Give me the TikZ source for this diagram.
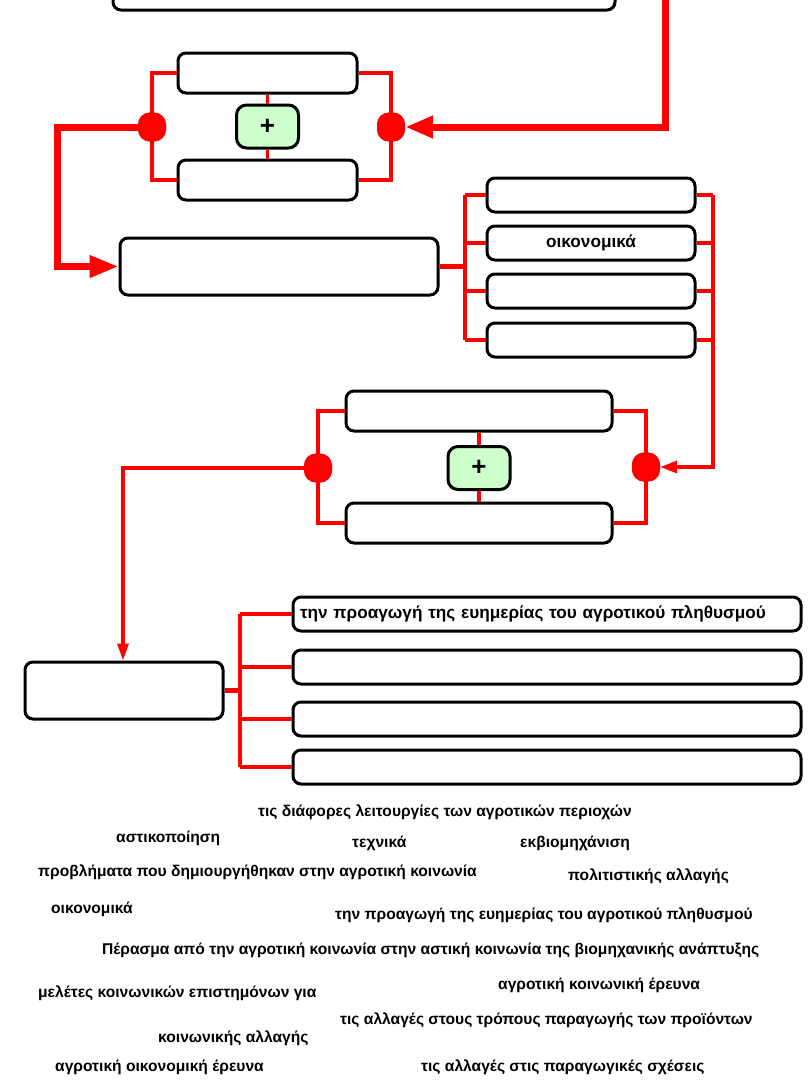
\documentclass[tikz,border=0pt]{standalone}
\usepackage{fontspec}
\setmainfont{Liberation Sans}
\usetikzlibrary{arrows.meta,calc}
\definecolor{boxgreen}{RGB}{204,255,204}
\definecolor{lred}{RGB}{255,0,0}
\begin{document}
\begin{tikzpicture}[x=1pt,y=-1pt,
  box/.style={draw=black,line width=3pt,rounded corners=8pt,fill=white,inner sep=0pt},
  plusbox/.style={draw=black,line width=3pt,rounded corners=10pt,fill=boxgreen,minimum width=62pt,minimum height=43pt,inner sep=0pt,font=\fontsize{26}{26}\selectfont\bfseries},
  dotnode/.style={fill=lred,rounded corners=12pt,minimum width=28pt,minimum height=29pt,inner sep=0pt},
  thin/.style={draw=lred,line width=3.5pt},
  thick/.style={draw=lred,line width=7pt},
  lbl/.style={font=\fontsize{15.6}{17}\selectfont\bfseries,inner sep=0pt},
  boxlbl/.style={font=\fontsize{17.2}{19}\selectfont\bfseries},
]
\useasboundingbox (0,0) rectangle (810,1085);
\clip (0,0) rectangle (810,1085);
\fill[white] (0,0) rectangle (810,1085);

% top box (cut at top)
\node[box,minimum width=502pt,minimum height=50pt] (top) at (364,-15) {};

% first gate
\node[box,minimum width=179pt,minimum height=40pt] (g1top) at (267.5,73) {};
\node[box,minimum width=179pt,minimum height=40pt] (g1bot) at (267.5,180) {};
\node[plusbox] (g1plus) at (267.5,126.5) {+};
\node[dotnode] (g1L) at (152,127) {};
\node[dotnode] (g1R) at (391,127) {};

% middle box and list
\node[box,minimum width=318pt,minimum height=57pt] (mid) at (279,266.5) {};
\node[box,minimum width=208pt,minimum height=34pt] (r1) at (591,195) {};
\node[box,minimum width=208pt,minimum height=34pt,boxlbl] (r2) at (591,243) {οικονομικά};
\node[box,minimum width=208pt,minimum height=34pt] (r3) at (591,291) {};
\node[box,minimum width=208pt,minimum height=34pt] (r4) at (591,340) {};

% second gate
\node[box,minimum width=266pt,minimum height=40pt] (g2top) at (479,411) {};
\node[box,minimum width=266pt,minimum height=40pt] (g2bot) at (479,523) {};
\node[plusbox] (g2plus) at (479,468) {+};
\node[dotnode] (g2L) at (318,468) {};
\node[dotnode] (g2R) at (646,467) {};

% bottom-left box and list
\node[box,minimum width=198pt,minimum height=57pt] (bl) at (124,690.5) {};
\node[box,minimum width=508pt,minimum height=34pt,boxlbl,text width=494pt,align=left] (b1) at (547,614) {την προαγωγή της ευημερίας του αγροτικού πληθυσμού};
\node[box,minimum width=508pt,minimum height=34pt] (b2) at (547,667) {};
\node[box,minimum width=508pt,minimum height=34pt] (b3) at (547,719) {};
\node[box,minimum width=508pt,minimum height=34pt] (b4) at (547,767) {};

\coordinate (topin) at (665,-10);
\coordinate (c1) at (57,127);
\coordinate (bus1) at (465,266.5);
\coordinate (bus2) at (713,195);
\coordinate (c2) at (123,468);
\coordinate (bus3) at (240,690.5);

% thick connectors
\draw[thick,-{Triangle[length=28pt,width=21pt]}] (topin) |- (g1R.east);
\draw[thick,-{Triangle[length=29pt,width=21pt]}] (g1L.center) -- (c1) |- (mid.west);

% first gate thin lines
\draw[thin] (g1L.center) |- (g1top.west);
\draw[thin] (g1L.center) |- (g1bot.west);
\draw[thin] (g1R.center) |- (g1top.east);
\draw[thin] (g1R.center) |- (g1bot.east);
\draw[thin] (g1top.south) -- (g1plus.north);
\draw[thin] (g1plus.south) -- (g1bot.north);

% middle list
\draw[line width=5pt,lred] (mid.east) -- (bus1);
\draw[thin] (r1.west -| bus1) -- (r4.west -| bus1);
\foreach \r in {r1,r2,r3,r4} {\draw[thin] (\r.west -| bus1) -- (\r.west);}
\foreach \r in {r1,r2,r3,r4} {\draw[thin] (\r.east) -- (\r.east -| bus2);}
\draw[thin,-{Triangle[length=17pt,width=12pt]}] (bus2) |- (g2R.east);

% second gate
\draw[thin] (g2L.center) |- (g2top.west);
\draw[thin] (g2L.center) |- (g2bot.west);
\draw[thin] (g2R.center) |- (g2top.east);
\draw[thin] (g2R.center) |- (g2bot.east);
\draw[thin] (g2top.south) -- (g2plus.north);
\draw[thin] (g2plus.south) -- (g2bot.north);
\draw[thin,-{Triangle[length=17pt,width=11pt]}] (g2L.center) -- (c2) -- (bl.north -| c2);

% bottom list
\draw[line width=5pt,lred] (bl.east) -- (bus3);
\draw[thin] (b1.west -| bus3) -- (b4.west -| bus3);
\foreach \r in {b1,b2,b3,b4} {\draw[thin] (\r.west -| bus3) -- (\r.west);}

% redraw junction dots on top of lines
\node[dotnode] at (g1L) {};
\node[dotnode] at (g1R) {};
\node[dotnode] at (g2L) {};
\node[dotnode] at (g2R) {};

% word bank
\node[lbl,anchor=west] (t1) at (258,812) {τις διάφορες λειτουργίες των αγροτικών περιοχών};
\node[lbl,anchor=west] (t2) at (116,838) {αστικοποίηση};
\node[lbl,anchor=west] (t3) at (352,843) {τεχνικά};
\node[lbl,anchor=west] (t4) at (520,843) {εκβιομηχάνιση};
\node[lbl,anchor=west] (t5) at (38,872) {προβλήματα που δημιουργήθηκαν στην αγροτική κοινωνία};
\node[lbl,anchor=west] (t6) at (568,876) {πολιτιστικής αλλαγής};
\node[lbl,anchor=west] (t7) at (51,909) {οικονομικά};
\node[lbl,anchor=west] (t8) at (335,915) {την προαγωγή της ευημερίας του αγροτικού πληθυσμού};
\node[lbl,anchor=west] (t9) at (102,950) {Πέρασμα από την αγροτική κοινωνία στην αστική κοινωνία της βιομηχανικής ανάπτυξης};
\node[lbl,anchor=west] (t10) at (498,985) {αγροτική κοινωνική έρευνα};
\node[lbl,anchor=west] (t11) at (38,993) {μελέτες κοινωνικών επιστημόνων για};
\node[lbl,anchor=west] (t12) at (340,1020) {τις αλλαγές στους τρόπους παραγωγής των προϊόντων};
\node[lbl,anchor=west] (t13) at (158,1038) {κοινωνικής αλλαγής};
\node[lbl,anchor=west] (t14) at (55,1067) {αγροτική οικονομική έρευνα};
\node[lbl,anchor=west] (t15) at (421,1067) {τις αλλαγές στις παραγωγικές σχέσεις};
\end{tikzpicture}
\end{document}
